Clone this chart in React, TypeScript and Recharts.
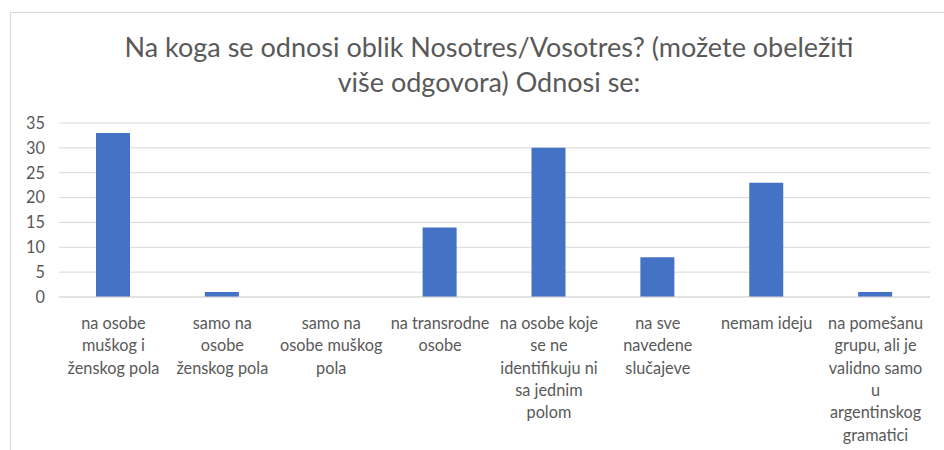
import React from 'react';
import { BarChart, Bar, XAxis, YAxis, CartesianGrid } from 'recharts';

const titleLines = [
  'Na koga se odnosi oblik Nosotres/Vosotres? (možete obeležiti',
  'više odgovora) Odnosi se:',
];

const categories = [
  'na osobe muškog i ženskog pola',
  'samo na osobe ženskog pola',
  'samo na osobe muškog pola',
  'na transrodne osobe',
  'na osobe koje se ne identifikuju ni sa jednim polom',
  'na sve navedene slučajeve',
  'nemam ideju',
  'na pomešanu grupu, ali je validno samo u argentinskog gramatici',
];

const tickLabelLines: string[][] = [
  ['na osobe', 'muškog i', 'ženskog pola'],
  ['samo na', 'osobe', 'ženskog pola'],
  ['samo na', 'osobe muškog', 'pola'],
  ['na transrodne', 'osobe'],
  ['na osobe koje', 'se ne', 'identifikuju ni', 'sa jednim', 'polom'],
  ['na sve', 'navedene', 'slučajeve'],
  ['nemam ideju'],
  ['na pomešanu', 'grupu, ali je', 'validno samo', 'u', 'argentinskog', 'gramatici'],
];

const values = [33, 1, 0, 14, 30, 8, 23, 1];
const yTicks = [0, 5, 10, 15, 20, 25, 30, 35];

const data = categories.map((c, i) => ({ category: c, value: values[i] }));

const FONT = 'Lato, "Open Sans", sans-serif';
const TEXT = '#595959';

const XTick = (props: any) => {
  const { x, y, payload } = props;
  const idx = categories.indexOf(payload.value);
  const lines = tickLabelLines[idx] || [payload.value];
  return (
    <text
      x={x}
      y={y}
      textAnchor="middle"
      fill={TEXT}
      fontSize={16.3}
      fontFamily={FONT}
    >
      {lines.map((l, i) => (
        <tspan key={i} x={x} dy={i === 0 ? 24 : 22.3}>
          {l}
        </tspan>
      ))}
    </text>
  );
};

export default function App() {
  return (
    <div
      style={{
        position: 'absolute',
        left: 0,
        top: 0,
        width: 944,
        height: 450,
        overflow: 'hidden',
        background: '#fff',
      }}
    >
      <div
        style={{
          position: 'absolute',
          left: 10,
          top: 12,
          width: 960,
          height: 480,
          border: '1px solid #d9d9d9',
        }}
      />
      <div
        style={{
          position: 'absolute',
          left: 0,
          top: 29,
          width: 978,
          textAlign: 'center',
          fontFamily: FONT,
          fontSize: 27,
          lineHeight: '35px',
          color: TEXT,
        }}
      >
        {titleLines.map((t, i) => (
          <div key={i}>{t}</div>
        ))}
      </div>
      <div style={{ position: 'absolute', left: 0, top: 0 }}>
        <BarChart
          width={944}
          height={450}
          data={data}
          margin={{ top: 123, right: 14, bottom: 0, left: 0 }}
        >
          <CartesianGrid vertical={false} stroke="#d9d9d9" strokeWidth={1} />
          <XAxis
            dataKey="category"
            axisLine={{ stroke: '#d9d9d9' }}
            tickLine={false}
            interval={0}
            tick={<XTick />}
            height={153}
          />
          <YAxis
            width={59}
            domain={[0, 35]}
            ticks={yTicks}
            interval={0}
            axisLine={false}
            tickLine={false}
            tickSize={6}
            tickMargin={8}
            tick={{ fill: TEXT, fontSize: 16.3, fontFamily: FONT }}
          />
          <Bar dataKey="value" fill="#4472C4" barSize={34} isAnimationActive={false} />
        </BarChart>
      </div>
    </div>
  );
}
